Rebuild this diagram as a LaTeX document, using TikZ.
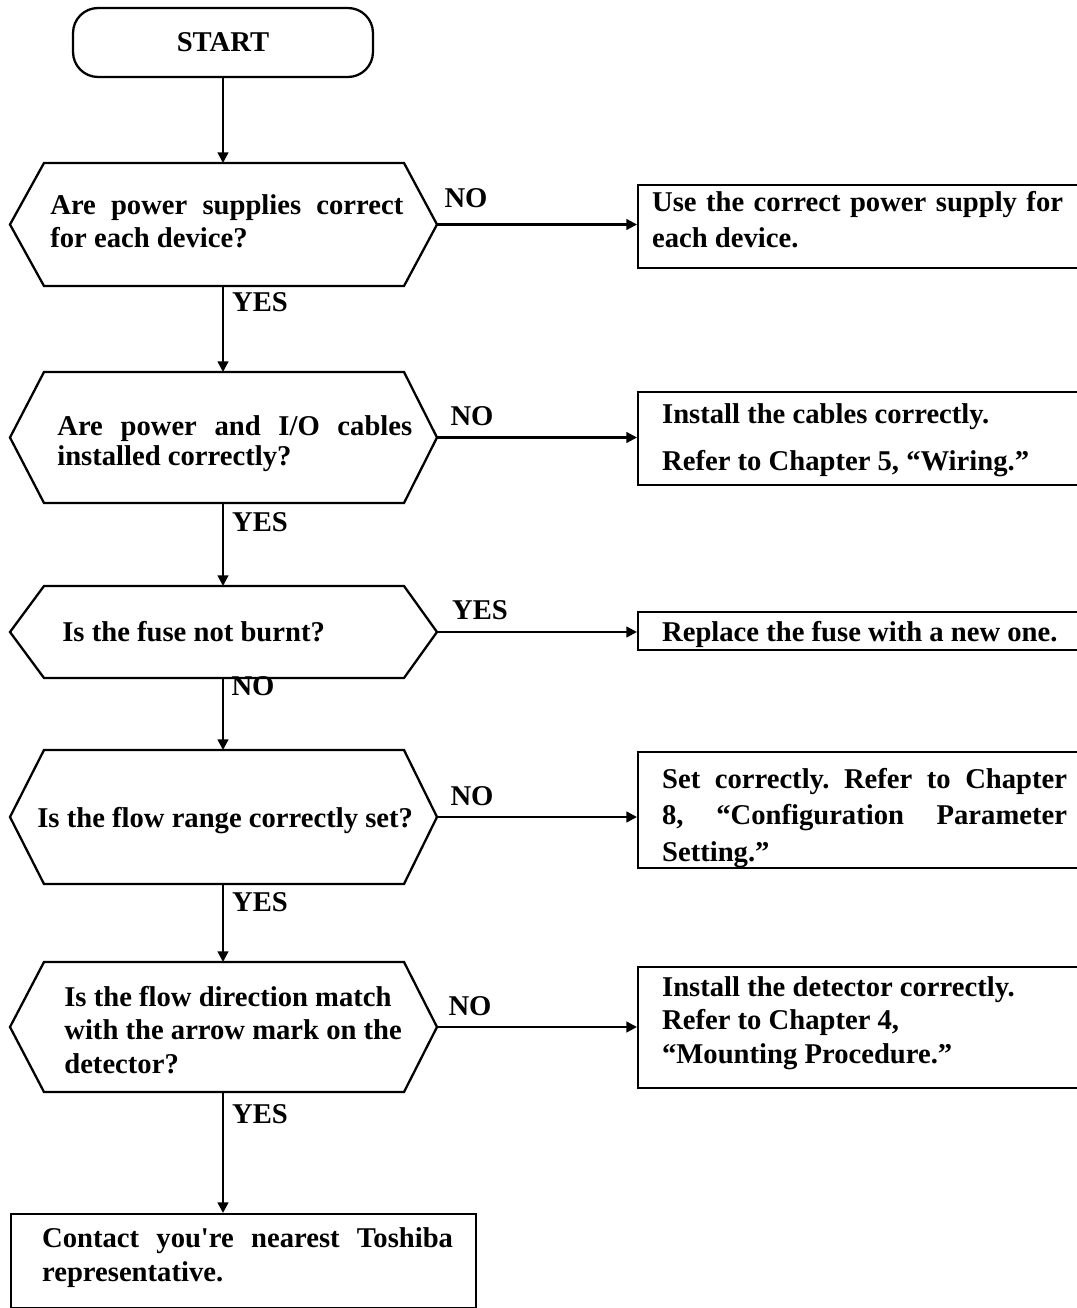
\documentclass[tikz,border=0pt]{standalone}
\usepackage{fontspec}
\setmainfont{Liberation Serif}
\frenchspacing
\usetikzlibrary{arrows.meta, calc}
\tikzstyle{edgeline}=[line width=1.3pt]
\tikzstyle{arr}=[line width=1.3pt, -{Triangle[length=6pt, width=6pt]}]
\tikzstyle{txt}=[font=\bfseries\fontsize{16.3}{19}\selectfont, inner sep=0pt]
\tikzstyle{qtext}=[txt, anchor=base west, text width=8cm, align=justify]
\tikzstyle{fix}=[txt, draw, line width=1.3pt, anchor=west, inner xsep=0.48cm, text width=8.6cm, align=justify]

\begin{document}
\begin{tikzpicture}[x=0.02cm, y=-0.02cm]
	\useasboundingbox (0,0) rectangle (1076,1308);

	% Start
	\node[txt, draw, edgeline, rounded corners=0.5cm, minimum width=6cm, minimum height=1.38cm, align=center] (start) at (223,42.5) {START};

	% Decision hexagons
	\draw[edgeline] (44,163) -- (404,163) -- (437,224.5) coordinate (q1e) -- (404,286) -- (44,286) -- (10,224.5) -- cycle;
	\draw[edgeline] (44,372) -- (404,372) -- (437,437.5) coordinate (q2e) -- (404,503) -- (44,503) -- (10,437.5) -- cycle;
	\draw[edgeline] (44,586) -- (404,586) -- (437,632) coordinate (q3e) -- (404,678) -- (44,678) -- (10,632) -- cycle;
	\draw[edgeline] (44,750) -- (404,750) -- (437,817) coordinate (q4e) -- (404,884) -- (44,884) -- (10,817) -- cycle;
	\draw[edgeline] (44,962) -- (404,962) -- (437,1027) coordinate (q5e) -- (404,1092) -- (44,1092) -- (10,1027) -- cycle;

	\coordinate (q1n) at (223,163); \coordinate (q1s) at (223,286);
	\coordinate (q2n) at (223,372); \coordinate (q2s) at (223,503);
	\coordinate (q3n) at (223,586); \coordinate (q3s) at (223,678);
	\coordinate (q4n) at (223,750); \coordinate (q4s) at (223,884);
	\coordinate (q5n) at (223,962); \coordinate (q5s) at (223,1092);

	\node[qtext] (q1) at (50,214.5) {\makebox[7.06cm][s]{Are power supplies correct}\\for each device?};
	\node[qtext] (q2) at (57,435.5) {\makebox[7.1cm][s]{Are power and I/O cables}\\[-2pt]installed correctly?};
	\node[qtext] (q3) at (62,641.5) {Is the fuse not burnt?};
	\node[qtext] (q4) at (37,827.5) {Is the flow range correctly set?};
	\node[qtext] (q5) at (64,1006.5) {Is the flow direction match\\with the arrow mark on the\\detector?};

	% Remedies
	\node[fix, inner xsep=0.28cm, text height=0pt, text depth=0.6cm, minimum height=1.66cm] (fix1) at (637,226.5) {\makebox[8.22cm][s]{Use the correct power supply for}\\[1.5pt]each device.};
	\node[fix, text height=0pt, text depth=0.6cm, minimum height=1.86cm] (fix2) at (637,438.5) {Install the cables correctly.\\[7.5pt]Refer to Chapter 5, “Wiring.”};
	\node[fix, text height=0.42cm, text depth=0pt, minimum height=0.76cm] (fix3) at (637,631) {Replace the fuse with a new one.};
	\node[fix, text height=0pt, text depth=0.86cm, minimum height=2.32cm] (fix4) at (637,810) {\makebox[8.1cm][s]{Set correctly. Refer to Chapter}\\[1.7pt]\makebox[8.1cm][s]{8, “Configuration Parameter}\\[1.7pt]Setting.”};
	\node[fix, text height=0pt, text depth=1.24cm, minimum height=2.42cm] (fix5) at (637,1027.5) {Install the detector correctly.\\Refer to Chapter 4,\\“Mounting Procedure.”};
	\node[txt, draw, edgeline, anchor=north west, inner xsep=0.62cm, text width=8.06cm, align=justify, text height=0pt, text depth=0.54cm, minimum height=1.88cm] (contact) at (10,1213) {\makebox[8.22cm][s]{Contact you\textquotesingle re nearest Toshiba}\\representative.};

	% Flow
	\draw[arr] (start) -- (q1n);
	\draw[arr] (q1s) -- (q2n);
	\draw[arr] (q2s) -- (q3n);
	\draw[arr] (q3s) -- (q4n);
	\draw[arr] (q4s) -- (q5n);
	\draw[arr] (q5s) -- (q5s |- contact.north);

	\draw[arr] (q1e) -- (q1e -| fix1.west);
	\draw[arr] (q2e) -- (q2e -| fix2.west);
	\draw[arr] (q3e) -- (q3e -| fix3.west);
	\draw[arr] (q4e) -- (q4e -| fix4.west);
	\draw[arr] (q5e) -- (q5e -| fix5.west);

	% Answers
	\node[txt] (no1) at (466,198) {NO};
	\node[txt] (no2) at (472,416) {NO};
	\node[txt] (yes3) at (480,610) {YES};
	\node[txt] (no4) at (472,796) {NO};
	\node[txt] (no5) at (470,1006) {NO};

	\node[txt] (yes1) at (260,302) {YES};
	\node[txt] (yes2) at (260,522) {YES};
	\node[txt] (no3) at (253,686) {NO};
	\node[txt] (yes4) at (260,902) {YES};
	\node[txt] (yes5) at (260,1114) {YES};
\end{tikzpicture}
\end{document}
